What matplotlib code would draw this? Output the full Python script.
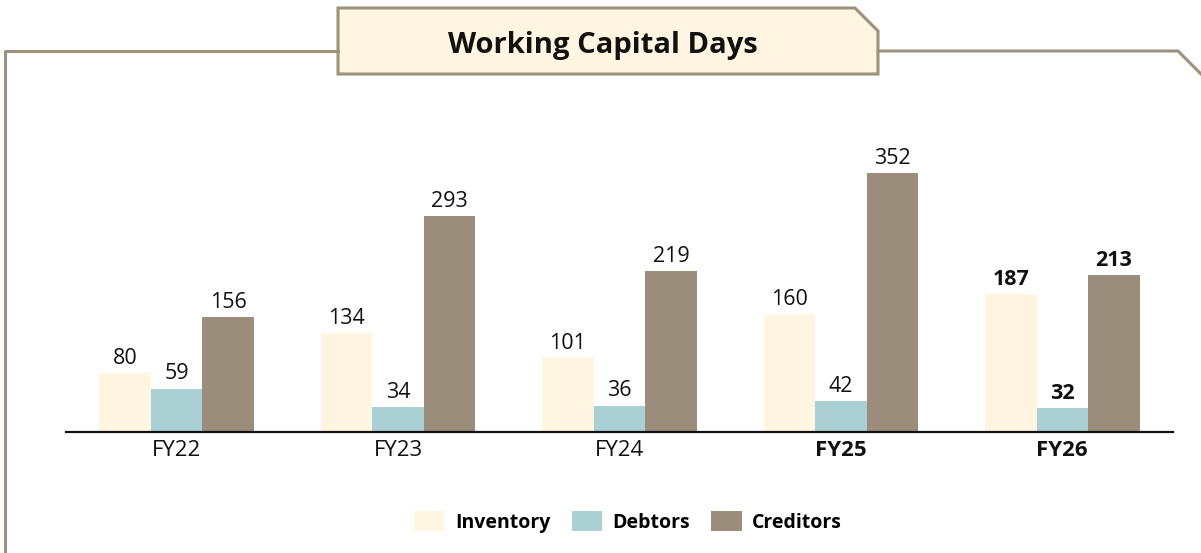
import matplotlib
matplotlib.use("Agg")
import matplotlib.pyplot as plt
from matplotlib.lines import Line2D
from matplotlib.patches import Polygon, Patch
import numpy as np

plt.rcParams["font.family"] = ["Open Sans", "DejaVu Sans"]

# Working capital days by year
years = ["FY22", "FY23", "FY24", "FY25", "FY26"]
inventory = [80, 134, 101, 160, 187]
debtors = [59, 34, 36, 42, 32]
creditors = [156, 293, 219, 352, 213]
bold_years = ["FY25", "FY26"]
bold_values = ["FY26"]

series_names = ["Inventory", "Debtors", "Creditors"]
colors = ["#FFF5E1", "#ABD0D3", "#9A8D7B"]
frame_color = "#9E927F"

W, H = 1201, 553
fig = plt.figure(figsize=(W / 100, H / 100), dpi=100)


def px(x, y):
    # pixel coords (top-left origin) -> figure fraction
    return x / W, 1 - y / H


# outer frame with the title tab
frame_pts = [(5, 560), (5, 51), (338, 51)]
fig.add_artist(Line2D(*zip(*[px(*p) for p in frame_pts]), color=frame_color, lw=2.2))
right_pts = [(878, 51), (1178, 51), (1205, 78)]
fig.add_artist(Line2D(*zip(*[px(*p) for p in right_pts]), color=frame_color, lw=2.2))
tab = [(338, 74), (338, 8), (855, 8), (878, 31), (878, 74)]
fig.add_artist(Polygon([px(*p) for p in tab], closed=True, facecolor="#FFF5E0",
                       edgecolor=frame_color, lw=2.2))
fig.text(*px(603, 46), "Working Capital Days", ha="center", va="center",
         fontsize=21, fontweight="bold", color="#111111")

# plotting area
left, right = 66, 1173
base, top = 432, 101
ax = fig.add_axes([left / W, (H - base) / H, (right - left) / W, (base - top) / H])
ax.set_xlim(-0.5, len(years) - 0.5)
ax.set_ylim(0, 450)

x = np.arange(len(years))
width = 0.233
for i, (vals, name, c) in enumerate(zip([inventory, debtors, creditors], series_names, colors)):
    bars = ax.bar(x + (i - 1) * width, vals, width, color=c, label=name)
    labels = ax.bar_label(bars, padding=3, fontsize=15.5, color="#111111")
    for yr, t in zip(years, labels):
        if yr in bold_values:
            t.set_fontweight("bold")

for s in ["top", "right", "left"]:
    ax.spines[s].set_visible(False)
ax.spines["bottom"].set_linewidth(1.6)
ax.spines["bottom"].set_color("#111111")
ax.set_yticks([])
ax.set_xticks(x)
ax.set_xticklabels(years, fontsize=16, color="#111111")
for t in ax.get_xticklabels():
    if t.get_text() in bold_years:
        t.set_fontweight("bold")
ax.tick_params(axis="x", length=0, pad=6)

handles = [Patch(facecolor=c, label=n) for c, n in zip(colors, series_names)]
leg = fig.legend(handles=handles, loc="center", bbox_to_anchor=(0.523, 0.056), ncol=3,
                 frameon=False, prop={"size": 14, "weight": "bold"},
                 handlelength=1.55, handleheight=1.2, handletextpad=0.55, columnspacing=1.1)

fig.savefig("out.png", dpi=100)
